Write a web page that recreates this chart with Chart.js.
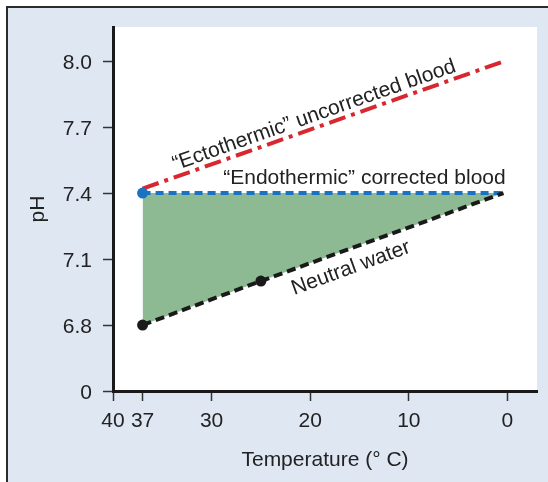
<!DOCTYPE html>
<html>
<head>
<meta charset="utf-8">
<title>pH vs temperature</title>
<script src="https://cdn.jsdelivr.net/npm/chart.js@4.4.1/dist/chart.umd.min.js"></script>
<style>
  html, body { margin: 0; padding: 0; background: #fff; }
  #frame {
    position: absolute; left: 6px; top: 6px; width: 580px; height: 520px;
    border: 2px solid #2b2b2b; background: #dfe7f3;
  }
  #chart { position: absolute; left: 0; top: 0; }
</style>
</head>
<body>
<div id="frame"></div>
<canvas id="chart" width="548" height="482"></canvas>
<script>
// data
const ectoTemps = [37, 0.3];
const ectothermic = [7.42, 8.0];       // "Ectothermic" uncorrected blood
const temps = [37, 25, 0.4];
const endothermic = [7.4, 7.4, 7.4];   // "Endothermic" corrected blood
const neutralWater = [6.8, 7.0, 7.4];  // Neutral water

const xTicks = [40, 37, 30, 20, 10, 0];
const yTicks = [6.5, 6.8, 7.1, 7.4, 7.7, 8.0];
const yTickLabels = ['0', '6.8', '7.1', '7.4', '7.7', '8.0'];

const FONT = "'Liberation Sans', Arial, Helvetica, sans-serif";
const INK = '#222';

const toPoints = (xs, ys) => xs.map((x, i) => ({ x: x, y: ys[i] }));

// white plot area
const plotBg = {
  id: 'plotBg',
  beforeDraw(chart) {
    const { ctx, chartArea: a } = chart;
    ctx.save();
    ctx.fillStyle = '#fff';
    ctx.fillRect(a.left, a.top, a.right - a.left, a.bottom - a.top);
    ctx.restore();
  }
};

// text labels that run along the lines
const lineLabels = {
  id: 'lineLabels',
  afterDatasetsDraw(chart) {
    const { ctx, scales: { x, y } } = chart;
    const items = [
      { text: '\u201CEctothermic\u201D uncorrected blood', ds: 0, at: 19.2, off: -12 },
      { text: '\u201CEndothermic\u201D corrected blood', ds: 1, at: 14.5, off: -15 },
      { text: 'Neutral water', ds: 2, at: 16.5, off: 18 }
    ];
    ctx.save();
    ctx.font = '21px ' + FONT;
    ctx.fillStyle = INK;
    ctx.textAlign = 'center';
    ctx.textBaseline = 'middle';
    items.forEach(it => {
      const pts = chart.data.datasets[it.ds].data;
      const p0 = pts[0], p1 = pts[pts.length - 1];
      const x0 = x.getPixelForValue(p0.x), y0 = y.getPixelForValue(p0.y);
      const x1 = x.getPixelForValue(p1.x), y1 = y.getPixelForValue(p1.y);
      const ang = Math.atan2(y1 - y0, x1 - x0);
      const t = (it.at - p0.x) / (p1.x - p0.x);
      const px = x0 + (x1 - x0) * t, py = y0 + (y1 - y0) * t;
      ctx.save();
      ctx.translate(px, py);
      ctx.rotate(ang);
      ctx.fillText(it.text, 0, it.off);
      ctx.restore();
    });
    ctx.restore();
  }
};

new Chart(document.getElementById('chart'), {
  type: 'line',
  data: {
    datasets: [
      {
        label: 'Ectothermic',
        data: toPoints(ectoTemps, ectothermic),
        borderColor: '#d7282f',
        borderWidth: 4,
        borderDash: [17, 6, 4, 6],
        pointRadius: 0,
        fill: false,
        order: 2
      },
      {
        label: 'Endothermic',
        data: toPoints(temps, endothermic),
        borderColor: '#1a72c0',
        borderWidth: 4,
        borderDash: [8, 5],
        pointRadius: [5.5, 0, 0],
        pointBackgroundColor: '#1a72c0',
        pointBorderWidth: 0,
        backgroundColor: '#8dba93',
        fill: { target: 2 },
        order: 1
      },
      {
        label: 'Neutral water',
        data: toPoints(temps, neutralWater),
        borderColor: '#1a1a1a',
        borderWidth: 4,
        borderDash: [9, 5],
        pointRadius: [5.5, 5.5, 0],
        pointBackgroundColor: '#1a1a1a',
        pointBorderWidth: 0,
        fill: false,
        order: 0
      }
    ]
  },
  options: {
    responsive: false,
    animation: false,
    devicePixelRatio: 1,
    layout: { padding: { top: 27, right: 11, left: 0, bottom: 0 } },
    plugins: {
      legend: { display: false },
      tooltip: { enabled: false }
    },
    scales: {
      x: {
        type: 'linear',
        reverse: true,
        min: -3,
        max: 40,
        afterBuildTicks: s => { s.ticks = xTicks.map(v => ({ value: v })); },
        afterFit: s => { s.height = 91; },
        ticks: {
          autoSkip: false,
          maxRotation: 0,
          padding: 8,
          color: INK,
          font: { family: FONT, size: 21 }
        },
        grid: { drawOnChartArea: false, tickLength: 10, tickColor: '#333', tickWidth: 1.5 },
        border: { color: '#1a1a1a', width: 3 },
        title: {
          display: true,
          text: 'Temperature (\u00B0 C)',
          color: INK,
          font: { family: FONT, size: 21 },
          padding: { top: 0, bottom: 9 }
        }
      },
      y: {
        type: 'linear',
        min: 6.5,
        max: 8.155,
        afterBuildTicks: s => { s.ticks = yTicks.map(v => ({ value: v })); },
        afterFit: s => { s.width = 113; },
        ticks: {
          padding: 11,
          labelOffset: 2,
          color: INK,
          font: { family: FONT, size: 21 },
          callback: v => {
            const i = yTicks.findIndex(t => Math.abs(t - v) < 1e-6);
            return i >= 0 ? yTickLabels[i] : '';
          }
        },
        grid: { drawOnChartArea: false, tickLength: 10, tickColor: '#333', tickWidth: 1.5 },
        border: { color: '#1a1a1a', width: 3 },
        title: {
          display: true,
          text: 'pH',
          color: INK,
          font: { family: FONT, size: 21 },
          padding: { top: 26, bottom: 0 }
        }
      }
    }
  },
  plugins: [plotBg, lineLabels]
});
</script>
</body>
</html>
